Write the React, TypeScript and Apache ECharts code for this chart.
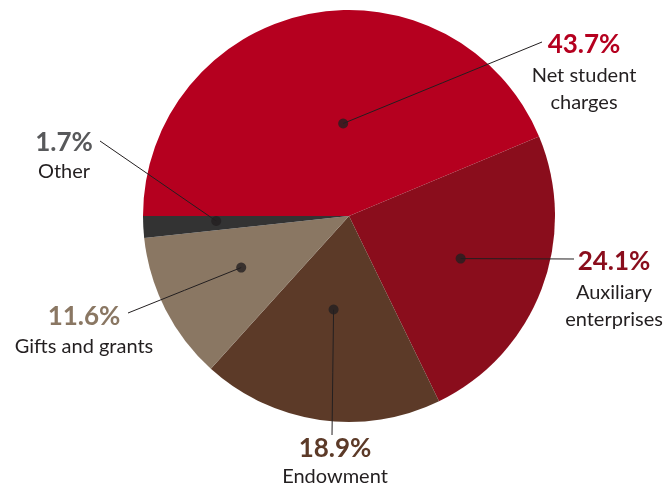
import React, { useEffect, useRef } from "react";
import * as echarts from "echarts";

const categories = ["Net student\ncharges", "Auxiliary\nenterprises", "Endowment", "Gifts and grants", "Other"];
const values = [43.7, 24.1, 18.9, 11.6, 1.7];
const sliceColors = ["#B5001F", "#8A0D1C", "#5C3A28", "#8A7763", "#333333"];
const percentColors = ["#B5001F", "#8A0D1C", "#5C3A28", "#8A7763", "#58595B"];

// layout: label block (top-center), percent line height, leader line end, dot placement
const labelPos = [[584, 26], [614, 243], [335, 433], [84, 299], [64, 126]];
const percentLineHeight = [34, 34, 28, 32, 30];
const lineEnd = [[542, 42], [574, 259], [332, 435], [128, 313], [100, 141]];
const dotAnglePos = [24.0, 55.8, 77.6, 92.9, 99.4];
const dotRadius = [0.45, 0.58, 0.46, 0.58, 0.645];

const CX = 349;
const CY = 216;
const R = 206;
const FONT = "Lato, 'Noto Sans', sans-serif";

export default function App() {
  const ref = useRef<HTMLDivElement>(null);
  useEffect(() => {
    if (!ref.current) return;
    const chart = echarts.init(ref.current, undefined, { renderer: "svg" });
    const dotPixel = (i: number) => {
      const ang = ((180 - dotAnglePos[i] * 3.6) * Math.PI) / 180;
      const r = R * dotRadius[i];
      return [CX + r * Math.cos(ang), CY - r * Math.sin(ang)];
    };
    const pieBase = {
      type: "pie",
      center: [CX, CY],
      radius: R,
      startAngle: 180,
      clockwise: true,
      avoidLabelOverlap: false,
      emphasis: { disabled: true },
      silent: true,
    };
    chart.setOption({
      animation: false,
      polar: { center: [CX, CY], radius: R },
      angleAxis: { type: "value", min: 0, max: 100, startAngle: 180, clockwise: true, show: false },
      radiusAxis: { type: "value", min: 0, max: 1, show: false },
      series: [
        {
          ...pieBase,
          itemStyle: { borderWidth: 0 },
          label: { show: false },
          labelLine: { show: false },
          data: values.map((v, i) => ({
            name: categories[i],
            value: v,
            itemStyle: { color: sliceColors[i] },
          })),
          z: 1,
        },
        {
          ...pieBase,
          itemStyle: { color: "rgba(0,0,0,0)", borderWidth: 0 },
          data: values.map((v, i) => ({
            name: categories[i],
            value: v,
            label: {
              rich: {
                p: { fontSize: 26, fontWeight: "bold", color: percentColors[i], lineHeight: percentLineHeight[i], fontFamily: FONT, align: "center" },
                n: { fontSize: 20, color: "#231F20", lineHeight: 27, fontFamily: FONT, align: "center" },
              },
            },
          })),
          label: {
            show: true,
            position: "outside",
            align: "center",
            fontFamily: FONT,
            formatter: (p: any) =>
              `{p|${values[p.dataIndex].toFixed(1)}%}\n` +
              String(p.name)
                .split("\n")
                .map((s: string) => `{n|${s}}`)
                .join("\n"),
          },
          labelLine: { show: true, lineStyle: { color: "#231F20", width: 1 } },
          labelLayout: (params: any) => {
            const i = params.dataIndex;
            const d = dotPixel(i);
            const e = lineEnd[i];
            return {
              x: labelPos[i][0],
              y: labelPos[i][1],
              align: "center",
              verticalAlign: "top",
              labelLinePoints: [d, [(d[0] + e[0]) / 2, (d[1] + e[1]) / 2], e],
            };
          },
          z: 3,
        },
        {
          type: "scatter",
          coordinateSystem: "polar",
          symbol: "circle",
          symbolSize: 10,
          silent: true,
          itemStyle: { color: "#231F20" },
          data: dotRadius.map((r, i) => [r, dotAnglePos[i]]),
          z: 5,
        },
      ],
    });
    return () => chart.dispose();
  }, []);
  return <div ref={ref} style={{ position: "fixed", left: 0, top: 0, width: 670, height: 488 }} />;
}
